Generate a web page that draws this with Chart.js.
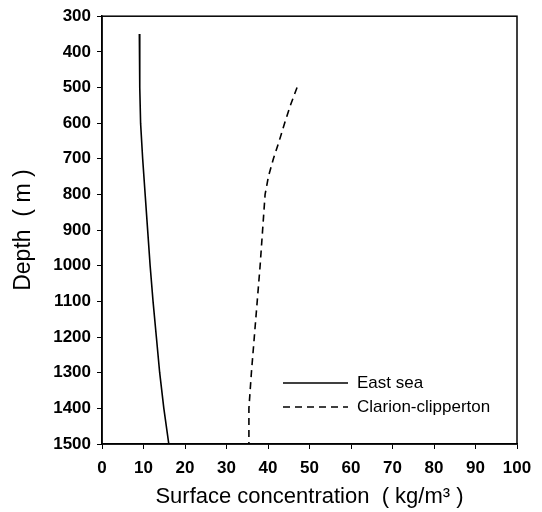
<!DOCTYPE html>
<html lang="en">
<head>
  <meta charset="UTF-8">
  <title>Depth vs Surface concentration</title>
  <script src="https://cdn.jsdelivr.net/npm/chart.js"></script>
  <style>
    html, body { margin: 0; padding: 0; background: #fff; }
    #wrap { width: 542px; height: 512px; }
  </style>
</head>
<body>
  <div id="wrap"><canvas id="chartCanvas" width="542" height="512"></canvas></div>

  <script>
    // data
    const eastDepth = [350, 500, 600, 700, 800, 900, 1000, 1100, 1200, 1300, 1400, 1500];
    const eastConc  = [9, 9.1, 9.3, 9.8, 10.4, 11.0, 11.6, 12.3, 13.1, 13.9, 14.9, 16.1];

    const ccDepth = [500, 550, 600, 650, 700, 750, 800, 900, 1000, 1100, 1200, 1300, 1400, 1500];
    const ccConc  = [47, 45.4, 44.0, 42.7, 41.3, 40.1, 39.3, 38.7, 38.1, 37.4, 36.7, 36.0, 35.4, 35.4];

    const seriesNames = ['East sea', 'Clarion-clipperton'];

    const FONT = '"Liberation Sans", Arial, sans-serif';

    function toPoints(xs, ys) {
      return xs.map((x, i) => ({ x: x, y: ys[i] }));
    }

    // box around plot area + legend drawn inside it
    const framePlugin = {
      id: 'frame',
      afterDraw(chart) {
        const { ctx, chartArea: a } = chart;
        ctx.save();
        ctx.strokeStyle = '#000';
        ctx.lineWidth = 1.5;
        ctx.strokeRect(a.left, a.top, a.right - a.left, a.bottom - a.top);

        // legend
        const lx0 = 283, lx1 = 348, ly = 383, gap = 24;
        chart.data.datasets.forEach((ds, i) => {
          const y = ly + i * gap;
          ctx.beginPath();
          ctx.setLineDash(ds.borderDash || []);
          ctx.lineWidth = ds.borderWidth;
          ctx.moveTo(lx0, y);
          ctx.lineTo(lx1, y);
          ctx.stroke();
          ctx.setLineDash([]);
          ctx.fillStyle = '#000';
          ctx.font = '17px ' + FONT;
          ctx.textBaseline = 'middle';
          ctx.fillText(ds.label, 357, y);
        });
        ctx.restore();
      }
    };

    new Chart(document.getElementById('chartCanvas'), {
      type: 'scatter',
      data: {
        datasets: [
          {
            label: seriesNames[0],
            data: toPoints(eastConc, eastDepth),
            showLine: true,
            borderColor: '#000',
            borderWidth: 1.6,
            pointRadius: 0
          },
          {
            label: seriesNames[1],
            data: toPoints(ccConc, ccDepth),
            showLine: true,
            borderColor: '#000',
            borderWidth: 1.6,
            borderDash: [7, 5],
            pointRadius: 0
          }
        ]
      },
      options: {
        responsive: false,
        animation: false,
        layout: { padding: { top: 13, right: 25, left: 0, bottom: 0 } },
        plugins: {
          legend: { display: false },
          tooltip: { enabled: false }
        },
        scales: {
          x: {
            type: 'linear',
            min: 0,
            max: 100,
            ticks: {
              stepSize: 10, color: '#000', padding: 9,
              font: { family: FONT, size: 17, weight: 'bold' },
              callback: v => String(v)
            },
            grid: { drawOnChartArea: false, drawTicks: true, tickLength: 5, color: '#000' },
            border: { display: true, color: '#000', width: 1.5 },
            title: {
              display: true,
              text: 'Surface concentration  ( kg/m³ )',
              color: '#000',
              font: { family: FONT, size: 22 },
              padding: { top: 2, bottom: 2 }
            },
            afterFit(scale) { scale.height = 68; }
          },
          y: {
            type: 'linear',
            reverse: true,
            min: 300,
            max: 1500,
            ticks: {
              stepSize: 100, color: '#000', padding: 6,
              font: { family: FONT, size: 17, weight: 'bold' },
              callback: v => String(v)
            },
            grid: { drawOnChartArea: false, drawTicks: true, tickLength: 5, color: '#000' },
            border: { display: true, color: '#000', width: 1.5 },
            title: {
              display: true,
              text: 'Depth  ( m )',
              color: '#000',
              font: { family: FONT, size: 23 },
              padding: { top: 10, bottom: 4 }
            },
            afterFit(scale) { scale.width = 102; }
          }
        }
      },
      plugins: [framePlugin]
    });
  </script>
</body>
</html>
